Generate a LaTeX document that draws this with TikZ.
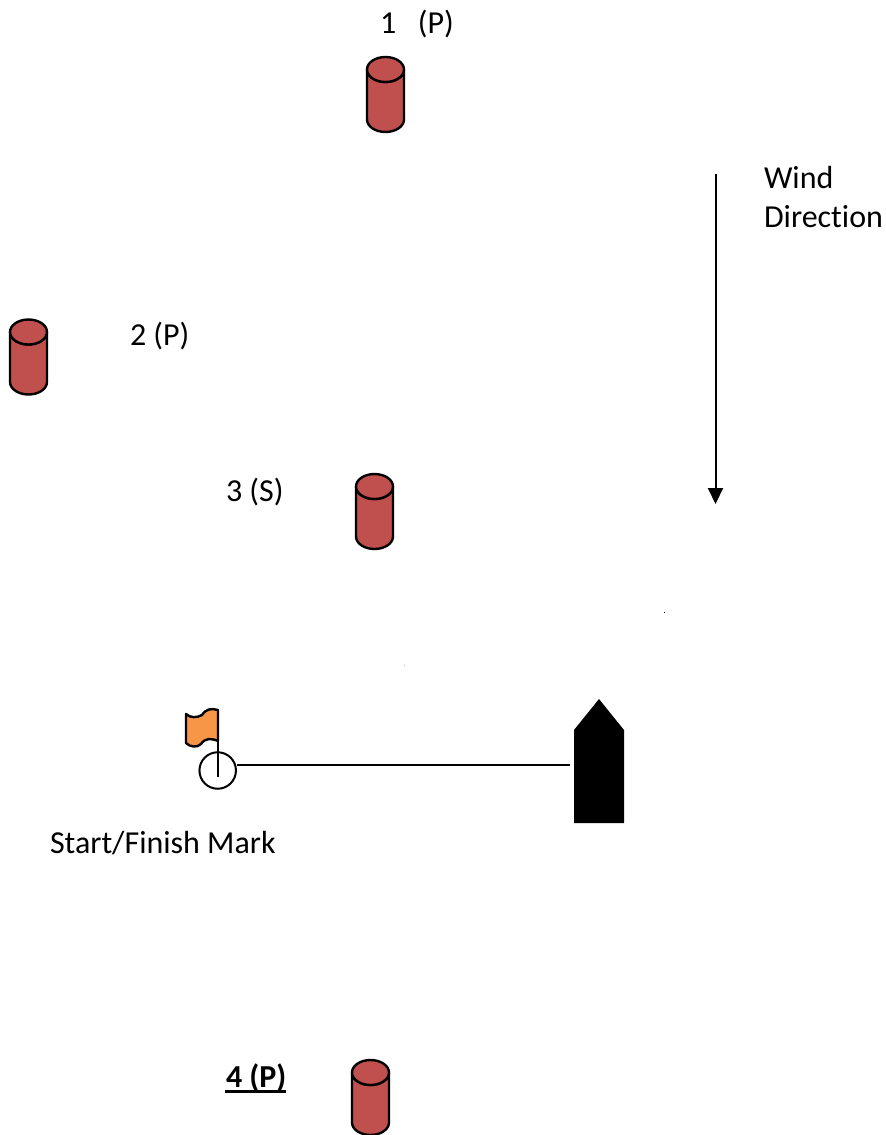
\documentclass[tikz,border=0pt]{standalone}
\usepackage{fontspec}
\setmainfont[Ligatures=NoCommon,Contextuals=NoAlternate]{Carlito}
\usetikzlibrary{arrows.meta}
\definecolor{buoyred}{HTML}{C0504D}
\definecolor{flagorange}{HTML}{F79646}
\tikzset{
  x=1pt,y=-1pt,
  label text/.style={anchor=base west,inner sep=0pt,outer sep=0pt,font=\fontsize{32}{38}\selectfont},
  outline/.style={draw=black,line width=2.4pt,line join=round},
  thinline/.style={draw=black,line width=2pt},
  buoy/.pic={
    \path[outline,fill=buoyred] (-18.5,0) arc[start angle=180,end angle=0,x radius=18.5,y radius=12.5]
      -- (18.5,50) arc[start angle=0,end angle=180,x radius=18.5,y radius=12.5] -- cycle;
    \path[outline,fill=buoyred] (0,0) ellipse[x radius=18.5,y radius=12.5];
  }
}
\begin{document}
\begin{tikzpicture}
\useasboundingbox (0,0) rectangle (886,1135);
\pic at (385.5,69.5) {buoy};
\pic at (28.5,332) {buoy};
\pic at (374.5,486.5) {buoy};
\pic at (370.5,1072.5) {buoy};
\node[label text] (t1) at (380,33) {1\hspace{0.68em}(P)};
\node[label text] (t2) at (130,345.5) {2 (P)};
\node[label text] (t3) at (226,501.5) {3 (S)};
\node[label text] (t4) at (226,1087) {\textbf{4 (P)}};
\draw[line width=2.8pt] (225,1091.5) -- (286,1091.5);
\node[label text] (t5) at (764,188.5) {Wind};
\node[label text] (t6) at (764,227) {Direction};
\node[label text] (t7) at (50,853.5) {Start/Finish Mark};
% wind arrow
\coordinate (w1) at (715.5,174);
\coordinate (w2) at (715.5,504);
\draw[thinline,-{Triangle[length=16pt,width=15pt]}] (w1) -- (w2);
% start mark and flag
\path[outline,fill=flagorange] (186,714) .. controls (190,718) and (197,718) .. (202,715)
  .. controls (206,709) and (211,708) .. (218,710) -- (218,741)
  .. controls (211,738) and (205,738) .. (201,744)
  .. controls (197,748) and (190,747) .. (186,743) -- cycle;
\node[circle,draw=black,line width=2pt,minimum size=36.5pt,inner sep=0pt] (mark) at (217.7,770.5) {};
\draw[thinline] (218,710) -- (218,777);
% committee boat
\path[fill=black] (574,730) -- (599,699) -- (624,730) -- (624,823) -- (574,823) -- cycle;
\coordinate (boat) at (570,765);
\draw[thinline] (mark.east |- 0,765) -- (boat);
% specks
\fill[black] (663.5,611.5) rectangle (665,613);
\fill[black!25] (403.5,665) rectangle (404.5,666);
\end{tikzpicture}
\end{document}
